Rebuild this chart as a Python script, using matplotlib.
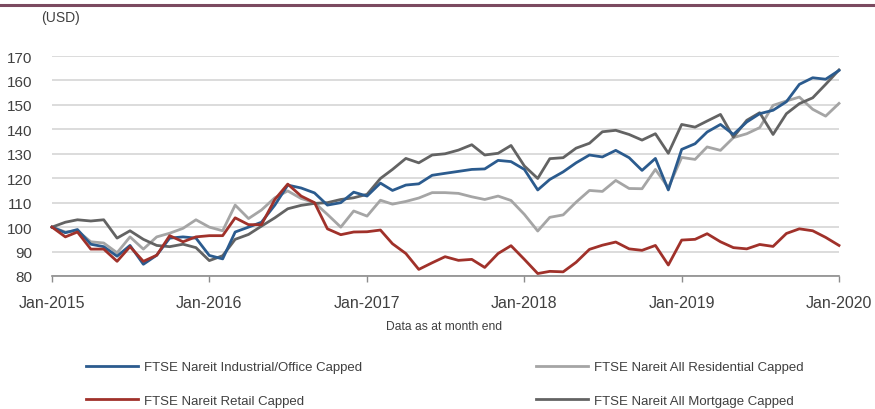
import numpy as np
import pandas as pd
import matplotlib
matplotlib.use("Agg")
import matplotlib.pyplot as plt
import matplotlib.dates as mdates
from matplotlib.lines import Line2D

plt.rcParams['font.family'] = ['Liberation Sans', 'DejaVu Sans']

#%% data (index level, USD, month end)
months = pd.date_range('2015-01-01', periods=61, freq='MS')

industrial = [100, 97.7, 99, 93, 92, 88.1, 92.5, 84.8, 88.5, 95.5, 96, 95.5,
              88.4, 87, 98, 100, 102, 109, 117.2, 116, 114, 109, 110, 114.3,
              112.7, 118, 115, 117.2, 117.7, 121.2, 122, 122.8, 123.6, 123.8, 127.3, 126.8,
              123.6, 115.2, 119.5, 122.6, 126.3, 129.5, 128.7, 131.4, 128.4, 123.2, 128.1, 115.2,
              131.8, 134.1, 138.9, 142, 137.9, 143, 146.4, 147.8, 151.3, 158.4, 161.1, 160.5,
              164.1]
retail = [100, 96, 98, 91, 91, 86, 92, 86, 88.5, 96.5, 94, 96,
          96.5, 96.5, 103.8, 101, 101, 111.3, 117.6, 112.7, 110, 99.3, 96.9, 98,
          98.1, 98.8, 93.2, 89.2, 82.7, 85.4, 87.9, 86.4, 86.8, 83.5, 89.2, 92.4,
          86.8, 81, 81.9, 81.7, 85.6, 90.9, 92.6, 93.9, 91.1, 90.5, 92.5, 84.5,
          94.7, 95, 97.3, 94, 91.6, 91.1, 92.9, 92.1, 97.4, 99.3, 98.5, 95.8,
          92.5]
residential = [100, 98, 98.5, 94, 93.5, 89.5, 96, 91, 96, 97.5, 99.5, 103,
               100, 98.5, 109, 103.5, 107, 112, 114.8, 111.7, 110, 105.2, 100, 106.6,
               104.5, 111, 109.4, 110.5, 111.9, 114.1, 114.1, 113.8, 112.4, 111.3, 112.7, 110.9,
               105.2, 98.4, 104, 105, 110.2, 115, 114.6, 119.1, 115.8, 115.7, 123.6, 116.1,
               128.5, 127.7, 132.8, 131.4, 136.6, 138.2, 140.7, 149.8, 151.6, 153.2, 148.2, 145.4,
               150.6]
mortgage = [100, 102, 103, 102.5, 103, 95.5, 98.5, 95, 92.5, 92, 93, 91.6,
            86.3, 88.3, 95, 97, 100.4, 103.8, 107.5, 108.9, 109.7, 110, 111.3, 112,
            113.4, 119.9, 123.6, 128.1, 126.3, 129.5, 130, 131.5, 133.7, 129.5, 130.2, 133.4,
            125, 119.9, 128, 128.4, 132.3, 134.3, 139, 139.6, 137.9, 135.6, 138.2, 130.2,
            142, 140.9, 143.4, 146.1, 136.8, 143.7, 146.8, 137.9, 146.4, 150.5, 152.9, 158.4,
            164.3]

labels = ['FTSE Nareit Industrial/Office Capped', 'FTSE Nareit Retail Capped',
          'FTSE Nareit All Residential Capped', 'FTSE Nareit All Mortgage Capped']

#%% plot
fig = plt.figure(figsize=(8.75, 4.10), dpi=100)
ax = fig.add_axes([52/875, 1-277/410, (839-52)/875, 220/410])

txt = '#404040'
lw = 2.0
l_res, = ax.plot(months, residential, color='#a5a5a5', lw=lw, zorder=3)
l_mor, = ax.plot(months, mortgage, color='#636363', lw=lw, zorder=4)
l_ind, = ax.plot(months, industrial, color='#2b5b8e', lw=lw, zorder=5)
l_ret, = ax.plot(months, retail, color='#a0312a', lw=lw, zorder=6)

ax.set_ylim(80, 170)
ax.set_yticks(range(80, 171, 10))
ax.set_xlim(months[0], months[-1])
ax.set_xticks(pd.date_range('2015-01-01', '2020-01-01', freq='12MS'))
ax.xaxis.set_major_formatter(mdates.DateFormatter('%b-%Y'))

ax.grid(axis='y', color='#d9d9d9', lw=1.3)
ax.set_axisbelow(True)
for s in ['top', 'right', 'left']:
    ax.spines[s].set_visible(False)
ax.spines['bottom'].set_color('#8c8c8c')
ax.spines['bottom'].set_linewidth(1.2)
ax.tick_params(axis='y', length=0, pad=14, labelsize=11, labelcolor=txt)
ax.tick_params(axis='x', length=4, width=1, color='#8c8c8c', pad=10, labelsize=11.5, labelcolor=txt)
for l in ax.get_lines():
    l.set_clip_on(False)

fig.text(61/875, 1-18/410, '(USD)', ha='center', va='center', fontsize=10, color=txt)
fig.text(444/875, 1-327/410, 'Data as at month end', ha='center', va='center', fontsize=8.7, color=txt)

fig.legend([l_ind, l_ret, l_res, l_mor], [labels[0], labels[1], labels[2], labels[3]],
           loc='upper left', bbox_to_anchor=(86/875, 1-362/410), ncol=2, frameon=False,
           fontsize=9.5, borderpad=0, borderaxespad=0, handlelength=3.95, handletextpad=0.45,
           columnspacing=13.2, labelspacing=1.6, labelcolor=txt)

# top rule
fig.add_artist(Line2D([0, 1], [1-6/410, 1-6/410], color='#7b4a60', lw=2.2, transform=fig.transFigure))

fig.savefig('out.png', dpi=100)
